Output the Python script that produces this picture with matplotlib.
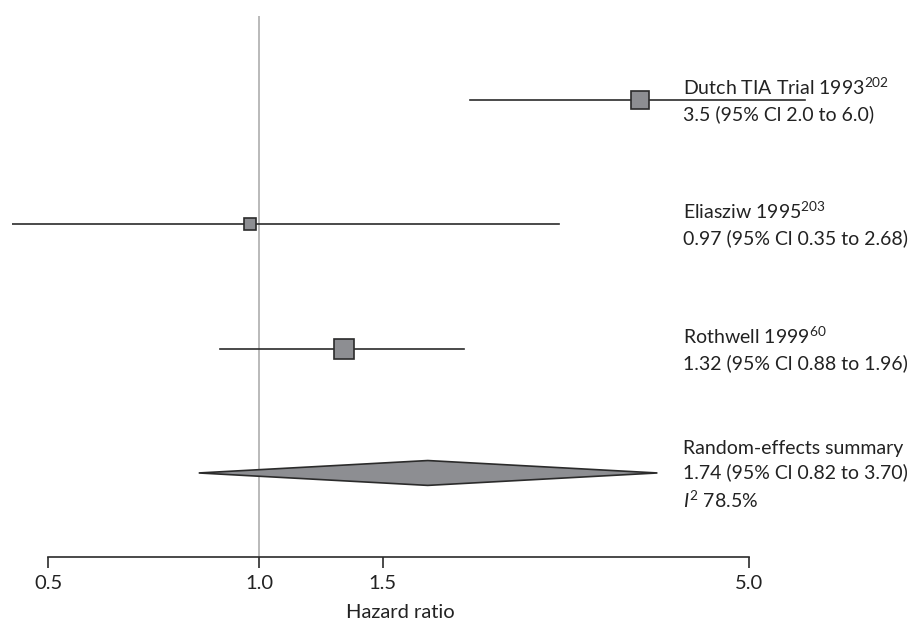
import numpy as np
import matplotlib
matplotlib.use("Agg")
import matplotlib.pyplot as plt
import matplotlib.transforms as mtransforms

plt.rcParams["font.family"] = ["Lato", "DejaVu Sans"]
plt.rcParams["mathtext.fontset"] = "custom"
plt.rcParams["mathtext.rm"] = "Lato"
plt.rcParams["mathtext.it"] = "Lato:italic"

# Study level hazard ratios
studies = ["Dutch TIA Trial 1993", "Eliasziw 1995", "Rothwell 1999"]
refs = ["202", "203", "60"]
hr = [3.5, 0.97, 1.32]
ci_low = [2.0, 0.35, 0.88]
ci_high = [6.0, 2.68, 1.96]
ci_text = ["3.5 (95% Cl 2.0 to 6.0)", "0.97 (95% Cl 0.35 to 2.68)",
           "1.32 (95% Cl 0.88 to 1.96)"]
box_size = [13, 9, 14]

# Random-effects summary
summary_hr = 1.74
summary_low = 0.82
summary_high = 3.70
summary_i2 = "78.5%"

tick_values = [0.5, 1.0, 1.5, 5.0]
tick_labels = ["0.5", "1.0", "1.5", "5.0"]

dark = "#2b2b2b"
grey_fill = "#8d8e92"
txt_col = "#222222"

fig = plt.figure(figsize=(9.2, 6.22), dpi=100)
ax = fig.add_axes([12 / 920, 1 - 557 / 622, 900 / 920, (557 - 16) / 622])
ax.set_xscale("log")
ax.set_xlim(0.444, 8.54)
ax.set_ylim(0.324, 4.676)

ax.axvline(1.0, color="#b4b4b4", lw=1.3, zorder=0)

rows = [4, 3, 2]
for y, lo, hi, h, s in zip(rows, ci_low, ci_high, hr, box_size):
    ax.plot([lo, hi], [y, y], color=dark, lw=1.2, zorder=1)
    ax.plot(h, y, marker="s", ms=s, mfc=grey_fill, mec=dark, mew=1.2,
            zorder=2)

# summary diamond
ys = 1
ax.fill([summary_low, summary_hr, summary_high, summary_hr, summary_low],
        [ys, ys + 0.1, ys, ys - 0.1, ys], facecolor=grey_fill,
        edgecolor=dark, lw=1.2, zorder=2)

# right-hand labels
trans = mtransforms.blended_transform_factory(ax.transAxes, ax.transData)
tx = (683 - 12) / 900
fs = 14
for y, name, ref, ci in zip(rows, studies, refs, ci_text):
    ax.text(tx, y, name + "$^{" + ref + "}$" + "\n" + ci, transform=trans,
            ha="left", va="center", fontsize=fs, color=txt_col,
            linespacing=1.5)
ax.text(tx, ys - 0.02, "Random-effects summary\n"
        + "%.2f (95%% Cl %.2f to %.2f)\n" % (summary_hr, summary_low, summary_high)
        + "$\\mathit{I}^2$ " + summary_i2,
        transform=trans, ha="left", va="center", fontsize=fs,
        color=txt_col, linespacing=1.45)

for side in ["top", "right", "left"]:
    ax.spines[side].set_visible(False)
ax.spines["bottom"].set_bounds(0.5, 5.0)
ax.spines["bottom"].set_color(dark)
ax.spines["bottom"].set_linewidth(1.2)
ax.set_yticks([])
ax.xaxis.set_minor_locator(matplotlib.ticker.NullLocator())
ax.set_xticks(tick_values)
ax.set_xticklabels(tick_labels)
ax.tick_params(axis="x", length=8, width=1.2, color=dark, pad=5,
               labelsize=fs + 0.5, labelcolor=txt_col)
ax.text((400 - 12) / 900, -(618 - 557) / 541, "Hazard ratio",
        transform=ax.transAxes, ha="center", va="baseline", fontsize=fs + 0.5,
        color=txt_col)

fig.savefig("out.png", dpi=100)
